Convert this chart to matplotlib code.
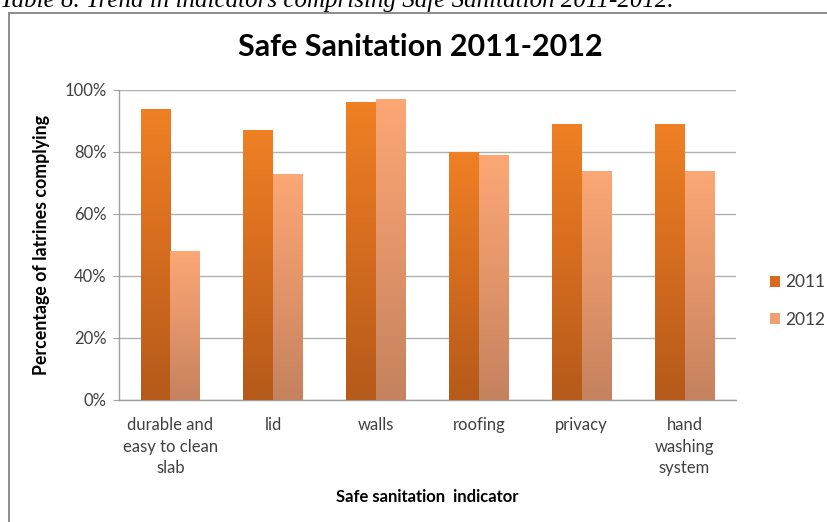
import numpy as np
import matplotlib
matplotlib.use("Agg")
import matplotlib.pyplot as plt
from matplotlib.patches import Rectangle
from matplotlib.colors import LinearSegmentedColormap

categories = ["durable and\neasy to clean\nslab", "lid", "walls", "roofing", "privacy", "hand\nwashing\nsystem"]
series_names = ["2011", "2012"]
values_2011 = [94, 87, 96, 80, 89, 89]
values_2012 = [48, 73, 97, 79, 74, 74]
yticks = [0, 20, 40, 60, 80, 100]
ytick_labels = ["0%", "20%", "40%", "60%", "80%", "100%"]

FONT = ["Lato", "DejaVu Sans"]
TXT = "#404040"

fig = plt.figure(figsize=(8.27, 5.22), dpi=100)
fig.patch.set_facecolor("white")

# chart frame
frame = Rectangle((9 / 827, -0.05), 1.2, (522 - 13) / 522 + 0.05, transform=fig.transFigure,
                  fill=False, edgecolor="#8c8c8c", linewidth=1.4, zorder=0)
fig.add_artist(frame)

# caption (partially cut at top, as in the reference)
fig.text(0.0, 1.0 - 7 / 522, "Table 8. Trend in indicators comprising Safe Sanitation 2011-2012.",
         family=["Liberation Serif", "DejaVu Serif"], style="italic", fontsize=18,
         ha="left", va="baseline", color="black")

ax = fig.add_axes([119 / 827, (522 - 400) / 522, 617 / 827, 310 / 522])

x = np.arange(len(categories))
w = 0.29
b1 = ax.bar(x - w / 2, values_2011, w, color="#D8691E", label=series_names[0], zorder=3, linewidth=0)
b2 = ax.bar(x + w / 2, values_2012, w, color="#F0A070", label=series_names[1], zorder=3, linewidth=0)

cm1 = LinearSegmentedColormap.from_list("c1", ["#B55A1A", "#D46C1F", "#EF8024"])
cm2 = LinearSegmentedColormap.from_list("c2", ["#C4825E", "#E3956A", "#FCA775"])
grad = np.linspace(0, 1, 256).reshape(-1, 1)
for bars, cm in ((b1, cm1), (b2, cm2)):
    for p in bars:
        x0, y0 = p.get_x(), p.get_y()
        im = ax.imshow(grad, cmap=cm, origin="lower", aspect="auto",
                       extent=(x0, x0 + p.get_width(), y0, y0 + p.get_height()), zorder=4)
        im.set_clip_path(p)

ax.set_xlim(-0.5, len(categories) - 0.5)
ax.set_ylim(0, 100)
ax.set_yticks(yticks)
ax.set_yticklabels(ytick_labels, family=FONT, fontsize=12, color=TXT)
ax.set_xticks(x)
ax.set_xticklabels(categories, family=FONT, fontsize=12, color=TXT, linespacing=1.45)
ax.tick_params(axis="x", length=0, pad=12)
ax.tick_params(axis="y", length=4, color="#a0a0a0", pad=5)
ax.yaxis.grid(True, color="#b0b0b0", linewidth=1.0, zorder=0)
ax.set_axisbelow(True)
for s in ("top", "right"):
    ax.spines[s].set_visible(False)
for s in ("left", "bottom"):
    ax.spines[s].set_color("#a0a0a0")
    ax.spines[s].set_linewidth(1.0)

ax.set_ylabel("Percentage of latrines complying", family=FONT, fontsize=12.8,
              fontweight="bold", color="black", labelpad=10)
ax.set_xlabel("Safe sanitation  indicator", family=FONT, fontsize=12,
              fontweight="bold", color="black", labelpad=9)

fig.text(420 / 827, 1 - 47 / 522, "Safe Sanitation 2011-2012", family=FONT, fontsize=22,
         fontweight="bold", ha="center", va="center", color="black")

leg = ax.legend(handles=[b1, b2], labels=series_names, loc="center left",
                bbox_to_anchor=(754 / 827, 1 - 301 / 522), bbox_transform=fig.transFigure,
                frameon=False, prop={"family": FONT, "size": 12.5}, handlelength=0.6,
                handleheight=0.6, handletextpad=0.3, labelspacing=1.25)
for t in leg.get_texts():
    t.set_color(TXT)

fig.savefig("out.png", dpi=100, facecolor="white")
